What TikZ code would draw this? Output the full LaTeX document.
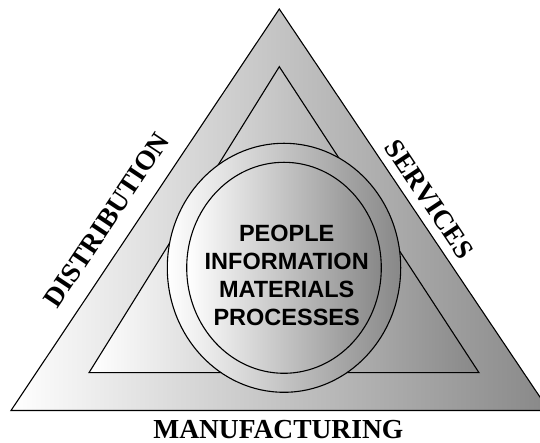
\documentclass[tikz,border=0pt]{standalone}
\usepackage{fontspec}
\newfontfamily\sidefont{Liberation Serif}
\newfontfamily\corefont{Liberation Sans}
\usepackage{tikz}
\usetikzlibrary{positioning}
\definecolor{shadeend}{HTML}{888888}

\begin{document}
\begin{tikzpicture}[x=1pt, y=1pt,
  every node/.style={inner sep=0pt},
  tier/.style={left color=white, right color=shadeend, draw=black, line width=1.1pt},
  side/.style={font=\sidefont\bfseries\fontsize{27.5}{30}\selectfont},
  core/.style={font=\corefont\bfseries\fontsize{23.5}{28}\selectfont, align=center}
]
  \useasboundingbox (0,0) rectangle (540,443);
  \clip (0,0) rectangle (540,443);

  % outer and inner triangles
  \coordinate (otop) at (279.3,434);
  \coordinate (oleft) at (11,32.5);
  \coordinate (oright) at (549,32.5);
  \draw[tier] (otop) -- (oleft) -- (oright) -- cycle;

  \coordinate (itop) at (279.3,376.3);
  \coordinate (ileft) at (89,70.3);
  \coordinate (iright) at (479,70.3);
  \draw[tier] (itop) -- (ileft) -- (iright) -- cycle;

  % ring and core
  \coordinate (hub) at (284,175.2);
  \draw[tier] (hub) ellipse [x radius=116.7, y radius=124.5];
  \draw[tier] (hub) ellipse [x radius=97.3, y radius=105.5];

  \node[core] (elements) at (286.7,168)
    {PEOPLE\\INFORMATION\\MATERIALS\\PROCESSES};

  \node[side, rotate=56.25] (distribution) at (106.7,223) {DISTRIBUTION};
  \node[side, rotate=-56.25] (services) at (429.2,243.8) {SERVICES};
  \node[side, anchor=base] (manufacturing) at (278.3,4.5) {MANUFACTURING};
\end{tikzpicture}
\end{document}
